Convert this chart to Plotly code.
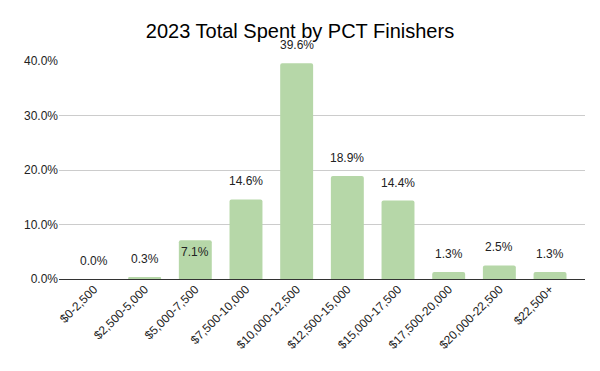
import plotly.graph_objects as go

categories = ["$0-2,500", "$2,500-5,000", "$5,000-7,500", "$7,500-10,000",
              "$10,000-12,500", "$12,500-15,000", "$15,000-17,500",
              "$17,500-20,000", "$20,000-22,500", "$22,500+"]
values = [0.0, 0.3, 7.1, 14.6, 39.6, 18.9, 14.4, 1.3, 2.5, 1.3]
y_ticks = [0, 10, 20, 30, 40]
title = "2023 Total Spent by PCT Finishers"

FONT = "Liberation Sans, Arial, sans-serif"

fig = go.Figure()
fig.add_trace(go.Bar(
    x=categories, y=values,
    marker=dict(color="#b6d7a8", line=dict(width=0), cornerradius=2),
    width=0.65,
    hoverinfo="skip",
))

for c, v in zip(categories, values):
    shift = -12 if c == "$5,000-7,500" else 18
    fig.add_annotation(x=c, y=v, text=f"{v:.1f}%", showarrow=False,
                       yanchor="middle", yshift=shift,
                       font=dict(family=FONT, size=12, color="#222222"))

fig.update_layout(
    width=600, height=371,
    margin=dict(l=59, r=15, t=61, b=92, autoexpand=False),
    paper_bgcolor="white", plot_bgcolor="white",
    title=dict(text=title, x=0.5, xanchor="center", xref="container",
               y=1 - 31 / 371, yanchor="middle", yref="container",
               font=dict(family=FONT, size=20, color="#000000"), automargin=False),
    showlegend=False,
)
fig.update_xaxes(
    range=[-0.69, 9.69], tickangle=-45, showgrid=False,
    showline=False, ticks="", automargin=False,
    tickfont=dict(family=FONT, size=12, color="#222222"),
)
fig.update_yaxes(
    range=[0, 40], tickvals=y_ticks, ticktext=[f"{t:.1f}%" for t in y_ticks],
    showgrid=True, gridcolor="#cccccc", gridwidth=1,
    zeroline=True, zerolinecolor="#333333", zerolinewidth=1,
    showline=False, ticks="", automargin=False,
    tickfont=dict(family=FONT, size=12, color="#222222"),
)

fig.write_html("out.html", config={"displayModeBar": False},
               post_script="document.body.style.margin='0';document.body.style.overflow='hidden';")
